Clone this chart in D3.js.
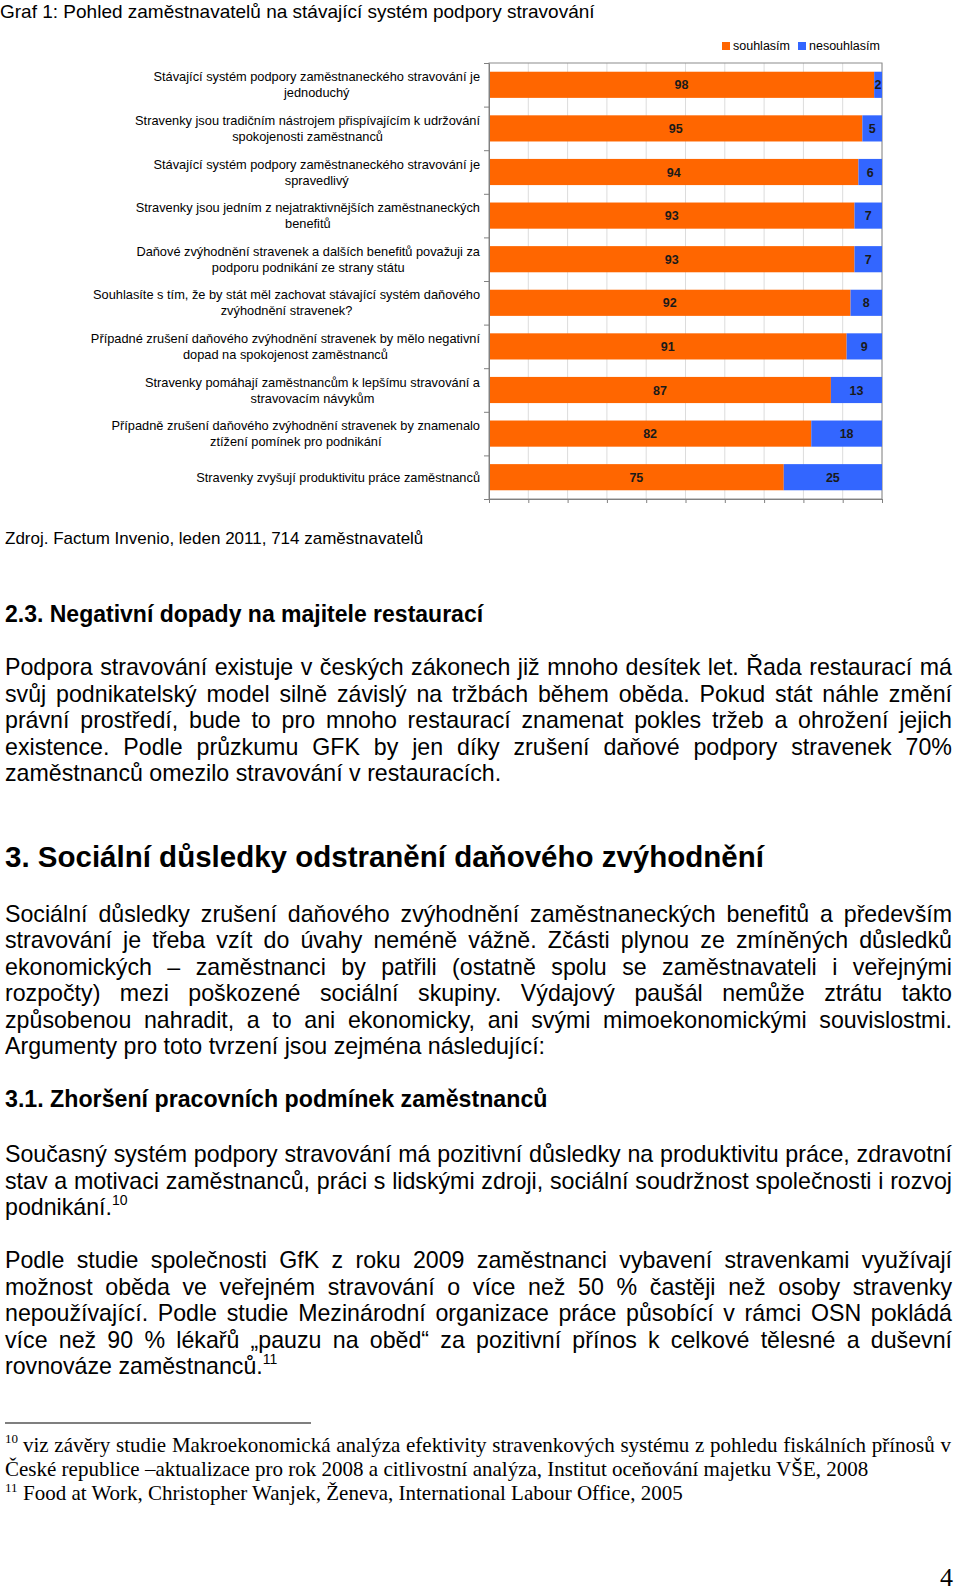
<!DOCTYPE html>
<html>
<head>
<meta charset="utf-8">
<script src="https://cdn.jsdelivr.net/npm/d3@7/dist/d3.min.js"></script>
<style>
    body { margin: 0; background: #fff; }
    svg text { font-family: "Liberation Sans", Arial, sans-serif; fill: #000; }
    svg text.serif { font-family: "Liberation Serif", "Times New Roman", serif; }
</style>
</head>
<body>
<svg id="page" width="960" height="1592"></svg>
<script>
'use strict';

// chart data
var categories = [
    'Stávající systém podpory zaměstnaneckého stravování je\njednoduchý',
    'Stravenky jsou tradičním nástrojem přispívajícím k udržování\nspokojenosti zaměstnanců',
    'Stávající systém podpory zaměstnaneckého stravování je\nspravedlivý',
    'Stravenky jsou jedním z nejatraktivnějších zaměstnaneckých\nbenefitů',
    'Daňové zvýhodnění stravenek a dalších benefitů považuji za\npodporu podnikání ze strany státu',
    'Souhlasíte s tím, že by stát měl zachovat stávající systém daňového\nzvýhodnění stravenek?',
    'Případné zrušení daňového zvýhodnění stravenek by mělo negativní\ndopad na spokojenost zaměstnanců',
    'Stravenky pomáhají zaměstnancům k lepšímu stravování a\nstravovacím návykům',
    'Případně zrušení daňového zvýhodnění stravenek by znamenalo\nztížení pomínek pro podnikání',
    'Stravenky zvyšují produktivitu práce zaměstnanců'
];
var agree = [98, 95, 94, 93, 93, 92, 91, 87, 82, 75];
var disagree = [2, 5, 6, 7, 7, 8, 9, 13, 18, 25];
var seriesNames = ['souhlasím', 'nesouhlasím'];
var seriesColors = ['#ff6600', '#3366ff'];
var xTicks = [0, 10, 20, 30, 40, 50, 60, 70, 80, 90, 100];

// page text
var chartTitle = 'Graf 1: Pohled zaměstnavatelů na stávající systém podpory stravování';
var sourceNote = 'Zdroj. Factum Invenio, leden 2011, 714 zaměstnavatelů';
var para1 = [
    'Podpora stravování existuje v českých zákonech již mnoho desítek let. Řada restaurací má',
    'svůj podnikatelský model silně závislý na tržbách během oběda. Pokud stát náhle změní',
    'právní prostředí, bude to pro mnoho restaurací znamenat pokles tržeb a ohrožení jejich',
    'existence. Podle průzkumu GFK by jen díky zrušení daňové podpory stravenek 70%',
    'zaměstnanců omezilo stravování v restauracích.'
];
var para2 = [
    'Sociální důsledky zrušení daňového zvýhodnění zaměstnaneckých benefitů a především',
    'stravování je třeba vzít do úvahy neméně vážně. Zčásti plynou ze zmíněných důsledků',
    'ekonomických – zaměstnanci by patřili (ostatně spolu se zaměstnavateli i veřejnými',
    'rozpočty) mezi poškozené sociální skupiny. Výdajový paušál nemůže ztrátu takto',
    'způsobenou nahradit, a to ani ekonomicky, ani svými mimoekonomickými souvislostmi.',
    'Argumenty pro toto tvrzení jsou zejména následující:'
];
var para3 = [
    'Současný systém podpory stravování má pozitivní důsledky na produktivitu práce, zdravotní',
    'stav a motivaci zaměstnanců, práci s lidskými zdroji, sociální soudržnost společnosti i rozvoj',
    'podnikání.'
];
var para4 = [
    'Podle studie společnosti GfK z roku 2009 zaměstnanci vybavení stravenkami využívají',
    'možnost oběda ve veřejném stravování o více než 50 % častěji než osoby stravenky',
    'nepoužívající. Podle studie Mezinárodní organizace práce působící v rámci OSN pokládá',
    'více než 90 % lékařů „pauzu na oběd“ za pozitivní přínos k celkové tělesné a duševní',
    'rovnováze zaměstnanců.'
];

var svg = d3.select('#page');
var plotLeft = 489, plotRight = 882, plotTop = 63, plotBottom = 499;
var bodySize = 23.2;

drawChart();
drawText();

////////////

function drawChart() {
    var x = d3.scaleLinear().domain([0, 100]).range([plotLeft, plotRight]);
    var y = d3.scaleBand().domain(d3.range(categories.length))
        .range([plotTop, plotBottom]).paddingInner(0.4).paddingOuter(0.2);
    var yEdge = d3.scaleLinear().domain([0, categories.length]).range([plotTop, plotBottom]);
    var g = svg.append('g').attr('id', 'chart');

    g.append('text').attr('x', 0).attr('y', 18).style('font-size', '19px').text(chartTitle);

    g.selectAll('.grid').data(xTicks.slice(1)).enter().append('line')
        .attr('class', 'grid')
        .attr('x1', x).attr('x2', x).attr('y1', plotTop).attr('y2', plotBottom)
        .attr('stroke', '#dcdcdc');

    g.append('rect').attr('x', plotLeft).attr('y', plotTop)
        .attr('width', plotRight - plotLeft).attr('height', plotBottom - plotTop)
        .attr('fill', 'none').attr('stroke', '#8c8c8c');

    var rows = categories.map(function (c, i) {
        return { i: i, souhlasím: agree[i], nesouhlasím: disagree[i] };
    });
    var stacked = d3.stack().keys(seriesNames)(rows);

    var layers = g.selectAll('.layer').data(stacked).enter().append('g')
        .attr('class', 'layer')
        .attr('fill', function (d, k) { return seriesColors[k]; });

    layers.selectAll('rect').data(function (d) { return d; }).enter().append('rect')
        .attr('x', function (d) { return x(d[0]); })
        .attr('y', function (d) { return y(d.data.i); })
        .attr('width', function (d) { return x(d[1]) - x(d[0]); })
        .attr('height', y.bandwidth());

    layers.selectAll('text').data(function (d) { return d; }).enter().append('text')
        .attr('x', function (d) { return (x(d[0]) + x(d[1])) / 2; })
        .attr('y', function (d) { return y(d.data.i) + y.bandwidth() / 2 + 4.5; })
        .attr('text-anchor', 'middle')
        .style('font-size', '12.5px').style('font-weight', 'bold').style('fill', '#1a1a1a')
        .text(function (d) { return d[1] - d[0]; });

    var yAxis = d3.axisLeft(yEdge).tickValues(d3.range(categories.length + 1))
        .tickFormat('').tickSize(5).tickSizeOuter(0);
    var xAxis = d3.axisBottom(x).tickValues(xTicks).tickFormat('').tickSize(4).tickSizeOuter(0);
    g.append('g').attr('transform', 'translate(' + plotLeft + ',0)').call(yAxis);
    g.append('g').attr('transform', 'translate(0,' + plotBottom + ')').call(xAxis);
    g.selectAll('.domain, .tick line').attr('stroke', '#808080');

    // category labels, centred block ending at x=480
    categories.forEach(function (c, i) {
        var lines = c.split('\n');
        var t = g.append('text').attr('text-anchor', 'middle').style('font-size', '12.8px');
        var cy = y(i) + y.bandwidth() / 2;
        lines.forEach(function (l, k) {
            t.append('tspan').attr('x', 0)
                .attr('y', cy + 4.5 + (k - (lines.length - 1) / 2) * 16)
                .text(l);
        });
        var w = d3.max(t.selectAll('tspan').nodes(), function (n) { return n.getComputedTextLength(); });
        t.selectAll('tspan').attr('x', 480 - w / 2);
    });

    // legend
    var lx = [722, 798];
    seriesNames.forEach(function (s, k) {
        g.append('rect').attr('x', lx[k]).attr('y', 42).attr('width', 8).attr('height', 8)
            .attr('fill', seriesColors[k]);
        g.append('text').attr('x', lx[k] + 11).attr('y', 50).style('font-size', '12.5px').text(s);
    });
}

function justify(g, line, x0, x1, yb, size, cls) {
    var words = line.split(' ');
    var t = g.append('text').attr('y', yb).style('font-size', size + 'px');
    if (cls) t.attr('class', cls);
    var spans = words.map(function (w) { return t.append('tspan').text(w); });
    var widths = spans.map(function (s) { return s.node().getComputedTextLength(); });
    var gap = (x1 - x0 - d3.sum(widths)) / (words.length - 1);
    var cx = x0;
    spans.forEach(function (s, k) { s.attr('x', cx); cx += widths[k] + gap; });
    return t;
}

function plain(g, line, x0, yb, size, cls) {
    var t = g.append('text').attr('x', x0).attr('y', yb).style('font-size', size + 'px').text(line);
    if (cls) t.attr('class', cls);
    return t;
}

function paragraph(g, lines, y0, step, sup) {
    lines.forEach(function (l, k) {
        var yb = y0 + k * step;
        if (k < lines.length - 1) {
            justify(g, l, 5, 952, yb, bodySize);
        } else {
            var t = plain(g, l, 5, yb, bodySize);
            if (sup) t.append('tspan').attr('dy', -10).style('font-size', '14px').text(sup);
        }
    });
}

function drawText() {
    var g = svg.append('g').attr('id', 'text');

    plain(g, sourceNote, 5, 544, 17);

    plain(g, '2.3. Negativní dopady na majitele restaurací', 5, 622, 23).style('font-weight', 'bold');
    paragraph(g, para1, 675, 26.6);

    plain(g, '3. Sociální důsledky odstranění daňového zvýhodnění', 5, 867, 29.5).style('font-weight', 'bold');
    paragraph(g, para2, 922, 26.4);

    plain(g, '3.1. Zhoršení pracovních podmínek zaměstnanců', 5, 1107, 23.2).style('font-weight', 'bold');
    paragraph(g, para3, 1162, 26.5, '10');
    paragraph(g, para4, 1268, 26.5, '11');

    // footnotes
    g.append('line').attr('x1', 5).attr('x2', 311).attr('y1', 1423).attr('y2', 1423)
        .attr('stroke', '#000').attr('stroke-width', 1.2);
    plain(g, '10', 5, 1443, 13, 'serif');
    justify(g, 'viz závěry studie Makroekonomická analýza efektivity stravenkových systému z pohledu fiskálních přínosů v',
        23, 951, 1452, 21, 'serif');
    plain(g, 'České republice –aktualizace pro rok 2008 a citlivostní analýza, Institut oceňování majetku VŠE, 2008',
        5, 1476, 21, 'serif');
    plain(g, '11', 5, 1492, 13, 'serif');
    plain(g, 'Food at Work, Christopher Wanjek, Ženeva, International Labour Office, 2005', 23, 1500, 21, 'serif');

    plain(g, '4', 940, 1586, 26, 'serif');
}
</script>
</body>
</html>
